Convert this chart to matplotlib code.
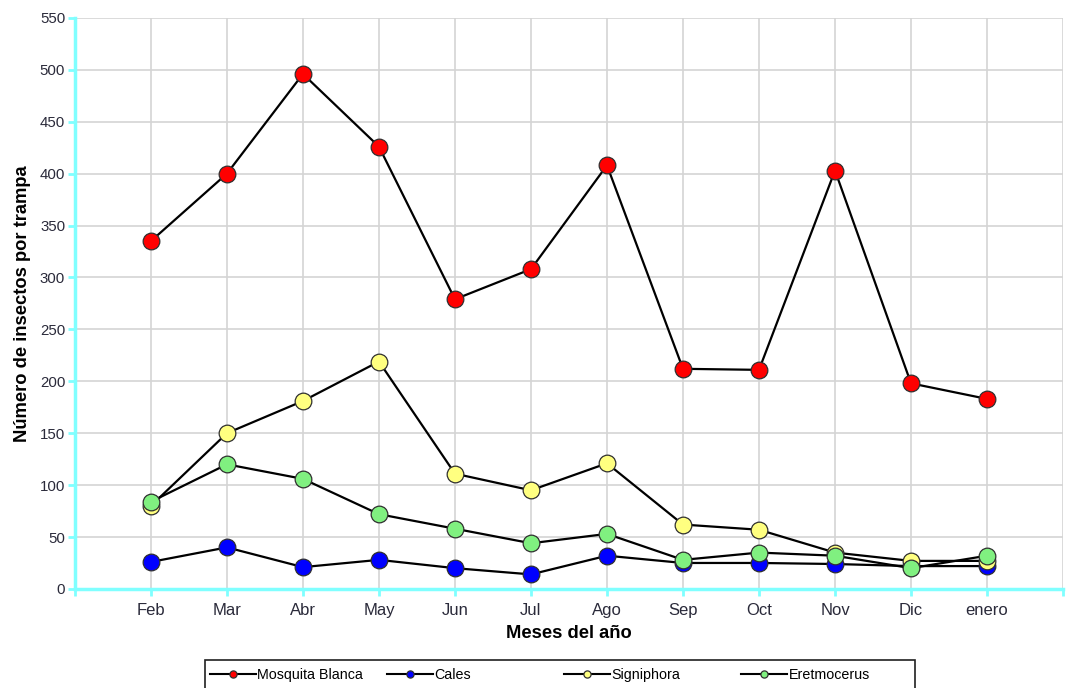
import matplotlib.pyplot as plt
import matplotlib.patches as mpatches
import numpy as np

plt.rcParams['font.family'] = ['Liberation Sans', 'DejaVu Sans']

meses = ['Feb', 'Mar', 'Abr', 'May', 'Jun', 'Jul', 'Ago', 'Sep', 'Oct', 'Nov', 'Dic', 'enero']
mosquita = [335, 400, 496, 426, 279, 308, 408, 212, 211, 403, 198, 183]
cales = [26, 40, 21, 28, 20, 14, 32, 25, 25, 24, 22, 22]
signiphora = [80, 150, 181, 219, 111, 95, 121, 62, 57, 35, 27, 27]
eretmocerus = [84, 120, 106, 72, 58, 44, 53, 28, 35, 32, 20, 32]

series = [
    ('Mosquita Blanca', mosquita, '#ff0000'),
    ('Cales', cales, '#0000ff'),
    ('Signiphora', signiphora, '#ffff80'),
    ('Eretmocerus', eretmocerus, '#80f080'),
]

W, H = 1070, 688
fig = plt.figure(figsize=(W / 100, H / 100), dpi=100)
ax = fig.add_axes([0.070, 0.144, 0.9235, 0.830])

x = np.arange(1, len(meses) + 1)
lines = []
for name, vals, col in series:
    ln, = ax.plot(x, vals, '-o', color='black', lw=1.6, ms=12,
                  mfc=col, mec='#303030', mew=0.9, label=name)
    lines.append(ln)

ax.set_xlim(0, 13)
ax.set_ylim(0, 550)
ax.set_yticks(np.arange(0, 551, 50))
ax.set_xticks(np.arange(0, 14))
ax.set_xticklabels([''] + meses + [''])
ax.grid(True, color='#d4d4d4', lw=1.2)
ax.set_axisbelow(True)

for s in ['top', 'right']:
    ax.spines[s].set_visible(False)
for s in ['left', 'bottom']:
    ax.spines[s].set_color('#80ffff')
    ax.spines[s].set_linewidth(2.5)
ax.tick_params(colors='#80ffff', width=2, length=5, labelcolor='#2a2a3a')
ax.tick_params(axis='x', pad=5, labelsize=12)
ax.tick_params(axis='y', pad=2, labelsize=10.8)

ax.set_xlabel('Meses del año', fontsize=13.2, fontweight='bold', labelpad=5)
ax.set_ylabel('Número de insectos por trampa', fontsize=13.2, fontweight='bold', labelpad=6)

# legend box at the bottom, one equal-width column per series
fig.patches.append(mpatches.Rectangle((205 / W, -0.02), 710 / W, (H - 660) / H + 0.02,
                                      transform=fig.transFigure, fill=False,
                                      edgecolor='#202020', lw=1.2))
for i, ln in enumerate(lines):
    leg = fig.legend([ln], [ln.get_label()], loc='center left',
                     bbox_to_anchor=((210 + 177 * i) / W, 1 - 675 / H),
                     fontsize=10.3, frameon=False, handlelength=3.2,
                     handletextpad=0.12, borderpad=0, borderaxespad=0,
                     markerscale=0.43)
    leg.legend_handles[0].set_linewidth(1.5)
    leg.set_zorder(5)

fig.savefig('out.png', dpi=100)
